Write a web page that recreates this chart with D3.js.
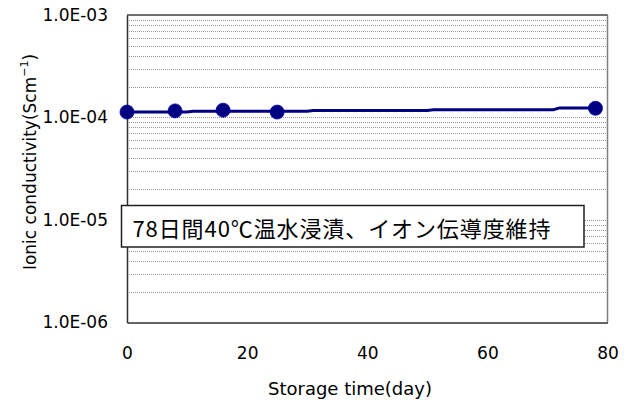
<!DOCTYPE html>
<html>
<head>
<meta charset="utf-8">
<script src="https://cdn.jsdelivr.net/npm/d3@7"></script>
<style>
  body { margin: 0; background: #fff; }
  text { font-family: "DejaVu Sans", sans-serif; fill: #000; }
</style>
</head>
<body>
<div id="chart"></div>
<script>
// measured points (markers)
const pointDays = [0, 8, 16, 25, 78];
const pointValues = [1.13e-4, 1.16e-4, 1.18e-4, 1.13e-4, 1.23e-4];

// continuous trace (line, no markers)
const lineDays = [0, 10, 11, 30, 31, 50, 51, 71, 72, 78];
const lineValues = [1.13e-4, 1.13e-4, 1.15e-4, 1.15e-4, 1.17e-4, 1.17e-4, 1.19e-4, 1.19e-4, 1.24e-4, 1.24e-4];

const xTicks = [0, 20, 40, 60, 80];
const yTicks = [1e-6, 1e-5, 1e-4, 1e-3];
const yTickLabels = ["1.0E-06", "1.0E-05", "1.0E-04", "1.0E-03"];

const note = "78日間40℃温水浸漬、イオン伝導度維持";

const width = 627;
const height = 403;
const margin = { top: 15, right: 19.5, bottom: 80.5, left: 127 };

const svg = d3.select("#chart")
  .append("svg")
  .attr("width", width)
  .attr("height", height);

const x = d3.scaleLinear()
  .domain([0, 80])
  .range([margin.left, width - margin.right]);

const y = d3.scaleLog()
  .domain([1e-6, 1e-3])
  .range([height - margin.bottom, margin.top]);

// grid lines: every 1..9 x decade
const gridVals = [];
for (let e = -6; e < -3; e++) {
  for (let k = 1; k <= 9; k++) {
    if (k === 1 && e === -6) continue;
    gridVals.push(k * Math.pow(10, e));
  }
}

svg.append("g")
  .selectAll("line")
  .data(gridVals)
  .join("line")
  .attr("x1", margin.left)
  .attr("x2", width - margin.right)
  .attr("y1", d => Math.round(y(d)) + 0.5)
  .attr("y2", d => Math.round(y(d)) + 0.5)
  .attr("stroke", "#9a9a9a")
  .attr("stroke-width", 1)
  .attr("stroke-dasharray", "1,1");

// plot frame: right edge grey, top dark
svg.append("line")
  .attr("x1", width - margin.right).attr("x2", width - margin.right)
  .attr("y1", margin.top).attr("y2", height - margin.bottom)
  .attr("stroke", "#808080").attr("stroke-width", 1.5);
svg.append("line")
  .attr("x1", margin.left).attr("x2", width - margin.right)
  .attr("y1", margin.top).attr("y2", margin.top)
  .attr("stroke", "#404040").attr("stroke-width", 1.5);

// axes
const xAxis = svg.append("g")
  .attr("transform", `translate(0,${height - margin.bottom})`)
  .call(d3.axisBottom(x).tickValues(xTicks).tickSize(0).tickPadding(24));
xAxis.select(".domain").attr("stroke", "#303030").attr("stroke-width", 1.5);
xAxis.selectAll("text").attr("font-size", 17).style("font-family", "\"DejaVu Sans\", sans-serif");

const yAxis = svg.append("g")
  .attr("transform", `translate(${margin.left},0)`)
  .call(d3.axisLeft(y).tickValues(yTicks).tickFormat((d, i) => yTickLabels[i]).tickSize(0).tickPadding(19));
yAxis.select(".domain").attr("stroke", "#303030").attr("stroke-width", 1.5);
yAxis.selectAll("text").attr("font-size", 17).style("font-family", "\"DejaVu Sans\", sans-serif");

// trace line
svg.append("path")
  .datum(lineDays.map((d, i) => [d, lineValues[i]]))
  .attr("fill", "none")
  .attr("stroke", "#000080")
  .attr("stroke-width", 3)
  .attr("d", d3.line().x(d => x(d[0])).y(d => y(d[1])));

// markers
svg.append("g")
  .selectAll("circle")
  .data(pointDays.map((d, i) => [d, pointValues[i]]))
  .join("circle")
  .attr("cx", d => x(d[0]))
  .attr("cy", d => y(d[1]))
  .attr("r", 7)
  .attr("fill", "#000080")
  .attr("stroke", "#0000b0")
  .attr("stroke-width", 0.8);

// annotation box
const box = svg.append("g");
box.append("rect")
  .attr("x", 121.5)
  .attr("y", 205.5)
  .attr("width", 462.5)
  .attr("height", 41.5)
  .attr("fill", "#fff")
  .attr("stroke", "#202020")
  .attr("stroke-width", 1.5);
box.append("text")
  .attr("x", 132.5)
  .attr("y", 236.5)
  .attr("font-size", 22)
  .attr("textLength", 418)
  .attr("lengthAdjust", "spacing")
  .style("font-family", "\"Noto Sans CJK JP\", sans-serif")
  .text(note);

// axis titles
svg.append("text")
  .attr("x", 350)
  .attr("y", 395)
  .attr("text-anchor", "middle")
  .attr("font-size", 18)
  .text("Storage time(day)");

const yt = svg.append("text")
  .attr("transform", "translate(36,162) rotate(-90)")
  .attr("text-anchor", "middle")
  .attr("font-size", 17);
yt.append("tspan").text("Ionic conductivity(Scm");
yt.append("tspan").attr("font-size", 11).attr("dy", -8).text("−1");
yt.append("tspan").attr("dy", 8).text(")");
</script>
</body>
</html>
